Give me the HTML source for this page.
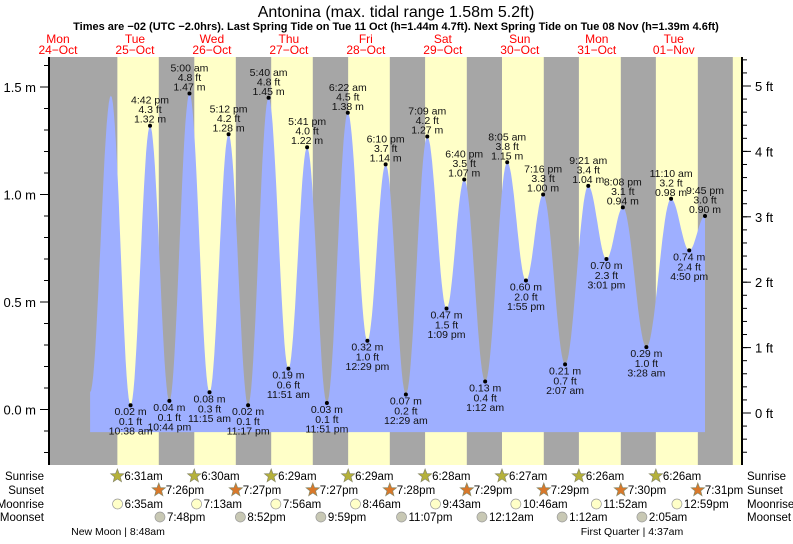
<!DOCTYPE html>
<html><head><meta charset="utf-8"><style>
body{margin:0;background:#fff;font-family:"Liberation Sans",sans-serif}
svg text{font-family:"Liberation Sans",sans-serif}
</style></head><body>
<svg id="c" width="793" height="539" viewBox="0 0 793 539">
<text x="396" y="17" text-anchor="middle" font-size="16" fill="#000">Antonina (max. tidal range 1.58m 5.2ft)</text>
<text x="396" y="30" text-anchor="middle" font-size="11" font-weight="bold" fill="#000">Times are −02 (UTC −2.0hrs). Last Spring Tide on Tue 11 Oct (h=1.44m 4.7ft). Next Spring Tide on Tue 08 Nov (h=1.39m 4.6ft)</text>
<g id="bands"></g><g id="tide"></g><g id="axes"></g><g id="labels"></g><g id="astro"></g>
</svg>
<script>
const dayNames=["Mon","Tue","Wed","Thu","Fri","Sat","Sun","Mon","Tue"];
const dayDates=["24\u2212Oct","25\u2212Oct","26\u2212Oct","27\u2212Oct","28\u2212Oct","29\u2212Oct","30\u2212Oct","31\u2212Oct","01\u2212Nov"];
const tideHours=[22.0,28.5,34.63,40.7,46.73,53.0,59.25,65.2,71.28,77.67,83.85,89.68,95.85,102.37,108.48,114.17,120.48,127.15,133.15,138.67,145.2,152.08,157.92,163.27,170.12,177.35,183.02,188.13,195.47,203.17,208.83,213.75];
const tideHeights=[0.08,1.46,0.02,1.32,0.04,1.47,0.08,1.28,0.02,1.45,0.19,1.22,0.03,1.38,0.32,1.14,0.07,1.27,0.47,1.07,0.13,1.15,0.60,1.00,0.21,1.04,0.70,0.94,0.29,0.98,0.74,0.90];
const tideFeet=["","","0.1","4.3","0.1","4.8","0.3","4.2","0.1","4.8","0.6","4.0","0.1","4.5","1.0","3.7","0.2","4.2","1.5","3.5","0.4","3.8","2.0","3.3","0.7","3.4","2.3","3.1","1.0","3.2","2.4","3.0"];
const tideTimes=["","","10:38 am","4:42 pm","10:44 pm","5:00 am","11:15 am","5:12 pm","11:17 pm","5:40 am","11:51 am","5:41 pm","11:51 pm","6:22 am","12:29 pm","6:10 pm","12:29 am","7:09 am","1:09 pm","6:40 pm","1:12 am","8:05 am","1:55 pm","7:16 pm","2:07 am","9:21 am","3:01 pm","8:08 pm","3:28 am","11:10 am","4:50 pm","9:45 pm"];
const sunriseHours=[30.52,54.5,78.48,102.48,126.47,150.45,174.43,198.43,222.42];
const sunsetHours=[43.43,67.45,91.45,115.47,139.48,163.48,187.5,211.52];
const sunriseText=["6:31am","6:30am","6:29am","6:29am","6:28am","6:27am","6:26am","6:26am"];
const sunsetText=["7:26pm","7:27pm","7:27pm","7:28pm","7:29pm","7:29pm","7:30pm","7:31pm"];
const moonriseHours=[30.58,55.22,79.93,104.77,129.72,154.77,179.87,205.0];
const moonriseText=["6:35am","7:13am","7:56am","8:46am","9:43am","10:46am","11:52am","12:59pm"];
const moonsetHours=[43.8,68.87,93.98,119.12,144.2,169.2,194.08];
const moonsetText=["7:48pm","8:52pm","9:59pm","11:07pm","12:12am","1:12am","2:05am"];
const mTicks=[0.0,0.5,1.0,1.5];
const ftTicks=[0,1,2,3,4,5];

const NS="http://www.w3.org/2000/svg";
const L=49,R=742,T=57,B=465;
const X=h=>19.5+h*3.207;
const Y=m=>409.5-m*215;
const YF=f=>413-f*65.4;
function mk(p,tag,a,txt){const e=document.createElementNS(NS,tag);for(const k in a)e.setAttribute(k,a[k]);if(txt!==undefined)e.textContent=txt;document.getElementById(p).appendChild(e);return e;}

let e=mk("bands","rect",{x:L,y:T,width:R-L,height:B-T,fill:"#a6a6a6"});


for(let i=0;i<sunriseHours.length;i++){
  const x1=Math.max(L,X(sunriseHours[i]));
  const x2=Math.min(R,i<sunsetHours.length?X(sunsetHours[i]):R);
  if(x2<=x1)continue;
  e=mk("bands","rect",{x:x1,y:T,width:x2-x1,height:B-T,fill:"#ffffc8"});
  
  
}
for(let i=0;i<dayNames.length;i++){
  const x=X(12+24*i);
  e=mk("bands","text",{x:x,y:43,"text-anchor":"middle","font-size":12,fill:"#f00"},dayNames[i]);
  
  
  e=mk("bands","text",{x:x,y:54,"text-anchor":"middle","font-size":12,fill:"#f00"},dayDates[i]);
  
  
}
let d="M"+X(tideHours[0]).toFixed(1)+","+Y(-0.105).toFixed(1);
for(let i=0;i<tideHours.length-1;i++){
  const h0=tideHours[i],h1=tideHours[i+1],v0=tideHeights[i],v1=tideHeights[i+1];
  for(let s=0;s<=20;s++){const t=s/20;const h=h0+(h1-h0)*t;const v=v0+(v1-v0)*(1-Math.cos(Math.PI*t))/2;d+=" L"+X(h).toFixed(1)+","+Y(v).toFixed(1);}
}
d+=" L"+X(tideHours[tideHours.length-1]).toFixed(1)+","+Y(-0.105).toFixed(1)+"Z";
e=mk("tide","path",{d:d,fill:"#9eafff"});


mk("axes","line",{x1:L,y1:T,x2:L,y2:B,stroke:"#000","stroke-width":2});
mk("axes","line",{x1:R,y1:T,x2:R,y2:B,stroke:"#000","stroke-width":2});
for(let v=-0.2;v<=1.65;v+=0.1){const y=Y(v);if(y>=T&&y<=B)mk("axes","line",{x1:L-5,y1:y,x2:L,y2:y,stroke:"#000"});}
for(const v of mTicks){mk("axes","line",{x1:L-9,y1:Y(v),x2:L,y2:Y(v),stroke:"#000"});
  e=mk("axes","text",{x:L-13,y:Y(v)+5,"text-anchor":"end","font-size":13},v.toFixed(1)+" m");
  
  }
for(let f=-0.8;f<=5.6;f+=0.2){const y=YF(f);if(y>=T&&y<=B)mk("axes","line",{x1:R,y1:y,x2:R+5,y2:y,stroke:"#000"});}
for(const f of ftTicks){mk("axes","line",{x1:R,y1:YF(f),x2:R+9,y2:YF(f),stroke:"#000"});
  e=mk("axes","text",{x:R+13,y:YF(f)+5,"font-size":13},f+" ft");
  
  }
for(let i=2;i<tideHours.length;i++){
  const x=X(tideHours[i]),y=Y(tideHeights[i]);const hi=tideHeights[i]>tideHeights[i-1];
  e=mk("labels","circle",{cx:x,cy:y,r:2,fill:"#000"});
  
  
  const m=tideHeights[i].toFixed(2)+" m",f=tideFeet[i]+" ft",t=tideTimes[i];
  const lines=hi?[[t,-22],[f,-12.5],[m,-3]]:[[m,10],[f,20],[t,29.5]];
  for(const [s,dy] of lines){e=mk("labels","text",{x:x,y:y+dy,"text-anchor":"middle","font-size":10.5,fill:"#111"},s);
    
    }
}
const rows=[["Sunrise",480],["Sunset",494],["Moonrise",508],["Moonset",521]];
for(const [n,y] of rows){
  e=mk("astro","text",{x:44,y:y,"text-anchor":"end","font-size":11.5},n);
  
  
  e=mk("astro","text",{x:747,y:y,"font-size":11.5},n);
  
  
}
function star(cx,cy,fill){let p="";for(let k=0;k<10;k++){const r=k%2?3:7;const a=-Math.PI/2+k*Math.PI/5;p+=(cx+r*Math.cos(a)).toFixed(1)+","+(cy+r*Math.sin(a)).toFixed(1)+" ";}
  return mk("astro","polygon",{points:p,fill:fill,stroke:"#886","stroke-width":0.7});}
function rowItems(hours,texts,y,kind){for(let i=0;i<texts.length;i++){const x=X(hours[i]);
  if(kind=="sr")e=star(x,y-4,"#b5b13a");else if(kind=="ss")e=star(x,y-4,"#d9782a");
  else e=mk("astro","circle",{cx:x,cy:y-4,r:5,fill:kind=="mr"?"#ffffc8":"#c8c8b4",stroke:"#999","stroke-width":0.7});
  
  
  e=mk("astro","text",{x:x+7,y:y,"font-size":11.5},texts[i]);
  
  }}
rowItems(sunriseHours,sunriseText,480,"sr");
rowItems(sunsetHours,sunsetText,494,"ss");
rowItems(moonriseHours,moonriseText,508,"mr");
rowItems(moonsetHours,moonsetText,521,"ms");
e=mk("astro","text",{x:118,y:535,"text-anchor":"middle","font-size":10.5},"New Moon | 8:48am");


e=mk("astro","text",{x:632,y:535,"text-anchor":"middle","font-size":10.5},"First Quarter | 4:37am");


</script>
</body></html>
